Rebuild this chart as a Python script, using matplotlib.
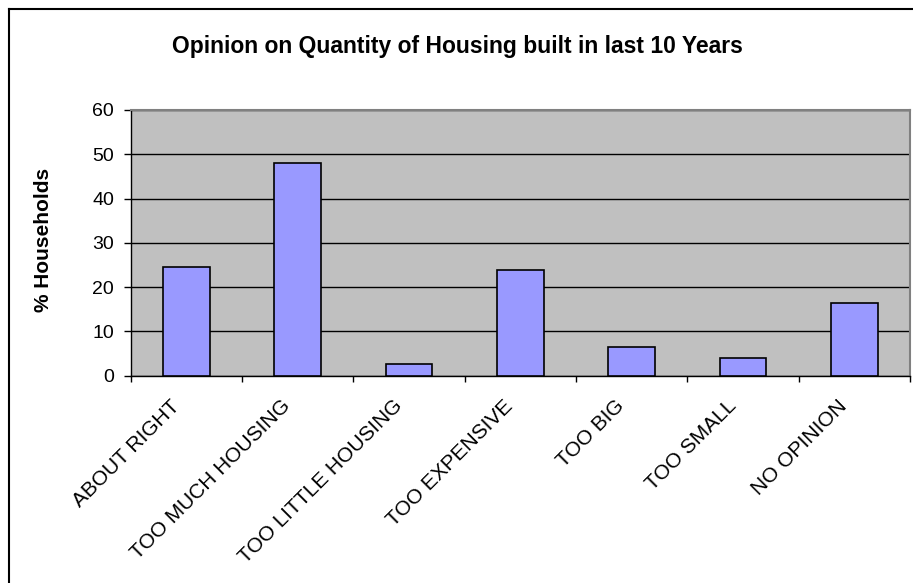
import numpy as np
import matplotlib
matplotlib.use('Agg')
import matplotlib.pyplot as plt
from matplotlib.lines import Line2D
from matplotlib.transforms import ScaledTranslation

plt.rcParams['font.family'] = ['Liberation Sans', 'DejaVu Sans']

categories = ['ABOUT RIGHT', 'TOO MUCH HOUSING', 'TOO LITTLE HOUSING', 'TOO EXPENSIVE',
              'TOO BIG', 'TOO SMALL', 'NO OPINION']
percent = [24.6, 48.1, 2.5, 23.9, 6.5, 4.0, 16.3]

W, H = 913, 583
fig = plt.figure(figsize=(W / 100, H / 100), dpi=100)
ax = fig.add_axes([130.7 / W, 1 - 375.5 / H, (910 - 130.7) / W, (375.5 - 110) / H])

x = np.arange(len(categories))
ax.set_facecolor('#C0C0C0')
ax.bar(x, percent, width=0.42, color='#9999FF', edgecolor='black', linewidth=1.2, zorder=3)

ax.set_xlim(-0.5, len(categories) - 0.5)
ax.set_ylim(0, 60)
ax.set_yticks(range(0, 61, 10))
ax.yaxis.grid(True, color='black', linewidth=1)
ax.set_axisbelow(True)

# ticks on category borders, labels at centres
ax.set_xticks(np.arange(len(categories) + 1) - 0.5)
ax.set_xticklabels([])
ax.set_xticks(x, minor=True)
ax.set_xticklabels(categories, minor=True, rotation=45, ha='right', va='center',
                   rotation_mode='anchor', fontsize=15)
ax.tick_params(axis='x', which='minor', length=0, pad=20)
ax.tick_params(axis='x', which='major', direction='out', length=4.5, width=1)
ax.tick_params(axis='y', direction='out', length=5, width=1, labelsize=14, pad=7)

# shift category labels a little left, like the original
shift = ScaledTranslation(-10 / 100, 0, fig.dpi_scale_trans)
for lab in ax.get_xticklabels(minor=True):
    lab.set_transform(lab.get_transform() + shift)

for s in ['top', 'right']:
    ax.spines[s].set_color('#808080')
    ax.spines[s].set_linewidth(1.5)
for s in ['left', 'bottom']:
    ax.spines[s].set_color('black')
    ax.spines[s].set_linewidth(1)

fig.text(43.5 / W, 1 - 240 / H, '% Households', rotation=90, ha='center', va='center',
         fontsize=15, fontweight='bold')

fig.text(457 / W, 1 - 46 / H, 'Opinion on Quantity of Housing built in last 10 Years',
         ha='center', va='center', fontsize=16.5, fontweight='bold')

# outer chart frame (left and top edges visible)
fig.add_artist(Line2D([8.5 / W, 8.5 / W], [0, 1 - 8.5 / H], transform=fig.transFigure,
                      color='black', linewidth=1.5))
fig.add_artist(Line2D([8.5 / W, 1], [1 - 8.5 / H, 1 - 8.5 / H], transform=fig.transFigure,
                      color='black', linewidth=1.5))

fig.savefig('out.png', dpi=100)
